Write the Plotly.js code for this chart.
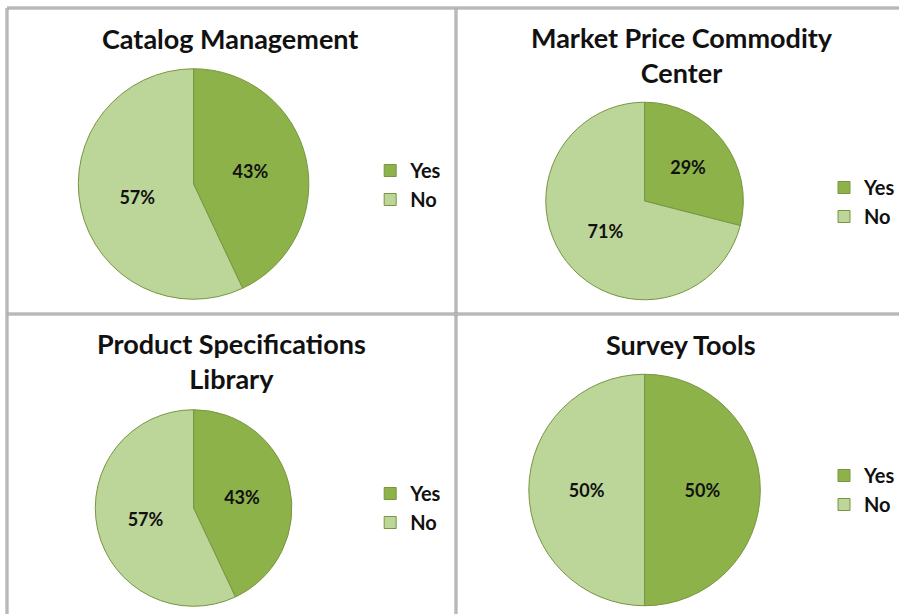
<!DOCTYPE html>
<html>
<head>
<meta charset="utf-8">
<script src="https://cdn.plot.ly/plotly-3.0.1.min.js"></script>
<style>html,body{margin:0;padding:0;background:#fff;}#chart{width:901px;height:614px;}</style>
</head>
<body>
<div id="chart"></div>
<script>
// ---- data ----
const categories = ["Yes", "No"];
const chartTitles = ["Catalog Management", "Market Price Commodity<br>Center", "Product Specifications<br>Library", "Survey Tools"];
const catalogManagement = [43, 57];
const marketPriceCommodityCenter = [29, 71];
const productSpecificationsLibrary = [43, 57];
const surveyTools = [50, 50];
const seriesValues = [catalogManagement, marketPriceCommodityCenter, productSpecificationsLibrary, surveyTools];

// ---- layout helpers (pixel geometry of the 901x614 canvas) ----
const W = 901, H = 614;
const px = x => x / W;
const py = y => 1 - y / H;
const pies = [ // centre x, centre y, diameter
  {cx: 194, cy: 184, d: 231},
  {cx: 646, cy: 201, d: 198},
  {cx: 194, cy: 508, d: 197},
  {cx: 646, cy: 490, d: 232}
];
const titlePos = [{x: 231, y: 38}, {x: 684, y: 55}, {x: 232, y: 361}, {x: 683, y: 344}];
const legendPos = [{x: 371, y: 185}, {x: 826, y: 202}, {x: 371, y: 508}, {x: 826, y: 490}];
const colors = ["#8db24a", "#bcd598"];
const FONT = "Lato, 'Open Sans', sans-serif";

const legendNames = ["legend", "legend2", "legend3", "legend4"];
const traces = seriesValues.map((vals, i) => {
  const p = pies[i];
  // zero-width suffix keeps each panel's legend entries separate
  const labels = categories.map(c => c + "\u200b".repeat(i));
  return {
    type: "pie",
    labels: labels,
    values: vals,
    sort: false,
    direction: "clockwise",
    rotation: 0,
    textinfo: "percent",
    textposition: "inside",
    insidetextorientation: "horizontal",
    textfont: {family: FONT, size: 18, color: "#111", weight: 700},
    marker: {colors: colors, line: {color: "#76963f", width: 1}},
    domain: {
      x: [px(p.cx - p.d / 2), px(p.cx + p.d / 2)],
      y: [py(p.cy + p.d / 2), py(p.cy - p.d / 2)]
    },
    legend: legendNames[i],
    hoverinfo: "label+percent"
  };
});

const layout = {
  width: W, height: H,
  margin: {l: 0, r: 0, t: 0, b: 0},
  paper_bgcolor: "#ffffff",
  font: {family: FONT, color: "#111"},
  annotations: chartTitles.map((t, i) => ({
    text: t, xref: "paper", yref: "paper",
    x: px(titlePos[i].x), y: py(titlePos[i].y),
    xanchor: "center", yanchor: "middle", showarrow: false,
    font: {family: FONT, size: 27, color: "#111", weight: 700}
  })),
  shapes: []
};
legendNames.forEach((name, i) => {
  layout[name] = {
    x: px(legendPos[i].x), y: py(legendPos[i].y),
    xanchor: "left", yanchor: "middle",
    font: {family: FONT, size: 20, color: "#111", weight: 700},
    bgcolor: "rgba(0,0,0,0)", itemclick: false
  };
});
// panel frame lines (double grey)
const frame = [
  {x0: 7, y0: 8, x1: 901, y1: 8},
  {x0: 7, y0: 8, x1: 7, y1: 614},
  {x0: 457, y0: 8, x1: 457, y1: 614},
  {x0: 7, y0: 314, x1: 901, y1: 314}
];
frame.forEach(f => {
  layout.shapes.push({type: "line", xref: "paper", yref: "paper",
    x0: px(f.x0), y0: py(f.y0), x1: px(f.x1), y1: py(f.y1),
    line: {color: "#9c9c9c", width: 3}});
  layout.shapes.push({type: "line", xref: "paper", yref: "paper",
    x0: px(f.x0), y0: py(f.y0), x1: px(f.x1), y1: py(f.y1),
    line: {color: "#d4d4d4", width: 1}});
});

Plotly.newPlot("chart", traces, layout, {displayModeBar: false, staticPlot: true});
</script>
</body>
</html>
